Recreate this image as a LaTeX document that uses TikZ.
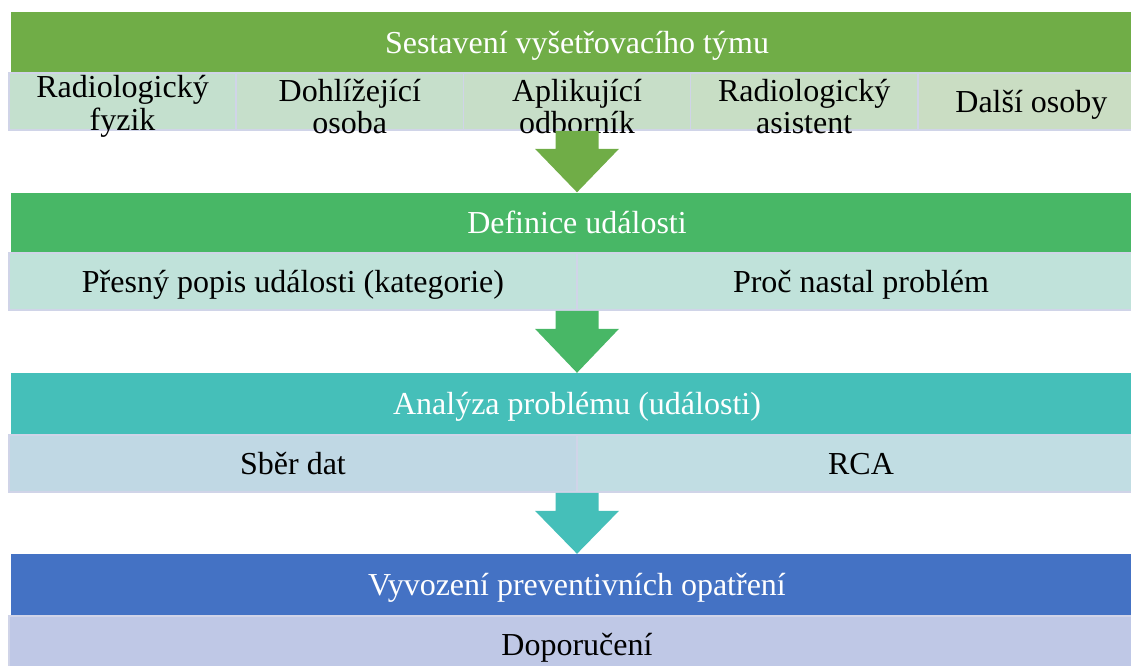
\documentclass[tikz,border=0pt]{standalone}
\usepackage{fontspec}
\setmainfont{Liberation Serif}
\usetikzlibrary{calc}

\definecolor{barA}{HTML}{70AD47}
\definecolor{barB}{HTML}{48B766}
\definecolor{barC}{HTML}{45BFB9}
\definecolor{barD}{HTML}{4472C4}
\definecolor{subA1}{HTML}{C4E0CE}
\definecolor{subA2}{HTML}{C6DFCB}
\definecolor{subA3}{HTML}{C7DEC8}
\definecolor{subA4}{HTML}{C8DEC5}
\definecolor{subA5}{HTML}{CADDC3}
\definecolor{subB}{HTML}{C0E2DA}
\definecolor{subC1}{HTML}{C0D8E4}
\definecolor{subC2}{HTML}{C1DDE3}
\definecolor{subD}{HTML}{BFC8E6}
\definecolor{edge}{HTML}{D0D4E8}

% down arrow from the bottom of one row to the top of the next bar
\newcommand\flowarrow[3]{%
  \fill[#3] ($(#1)+(-21.5,0)$) -- ($(#1)+(21.5,0)$) -- ($(#1)+(21.5,18)$)
    -- ($(#1)+(42,18)$) -- (#2) -- ($(#1)+(-42,18)$) -- ($(#1)+(-21.5,18)$) -- cycle;}

\tikzset{
  bar/.style={rectangle, inner sep=0pt, minimum width=1132pt, minimum height=61pt,
    text=white, font=\fontsize{32}{33}\selectfont, text height=21pt, text depth=0pt},
  subbox/.style={rectangle, draw=edge, line width=1.6pt, inner sep=0pt,
    minimum height=57pt},
  lbl/.style={inner sep=0pt, align=center, font=\fontsize{32}{32.5}\selectfont},
  onelbl/.style={inner sep=0pt, font=\fontsize{32}{33}\selectfont,
    text height=21pt, text depth=0pt}
}

\begin{document}
\begin{tikzpicture}[x=1pt, y=-1pt]
\useasboundingbox (0,0) rectangle (1131,665);
\clip (0,0) rectangle (1131,665);

% stage 1: team
\node[bar, fill=barA] (h1) at (577,42.5) {Sestavení vyšetřovacího týmu};
\foreach \i/\c in {1/subA1,2/subA2,3/subA3,4/subA4,5/subA5}{
  \node[subbox, fill=\c, minimum width=227.2pt] (s1\i) at ({9+(\i-0.5)*227.2},101.5) {};
}
\node[lbl, yshift=-5pt] (t11) at (s11.center) {Radiologický\\fyzik};
\node[lbl, yshift=-5pt] (t12) at (s12.center) {Dohlížející\\osoba};
\node[lbl, yshift=-5pt] (t13) at (s13.center) {Aplikující\\odborník};
\node[lbl, yshift=-5pt] (t14) at (s14.center) {Radiologický\\asistent};
\node[onelbl] (t15) at (s15.center) {Další osoby};

% stage 2: event definition
\node[bar, fill=barB] (h2) at (577,223) {Definice události};
\node[subbox, fill=subB, minimum width=568pt] (s21) at (293,281.5) {};
\node[subbox, fill=subB, minimum width=568pt] (s22) at (861,281.5) {};
\node[onelbl] (t21) at (s21.center) {Přesný popis události (kategorie)};
\node[onelbl] (t22) at (s22.center) {Proč nastal problém};

% stage 3: analysis
\node[bar, fill=barC] (h3) at (577,403.5) {Analýza problému (události)};
\node[subbox, fill=subC1, minimum width=568pt] (s31) at (293,463.5) {};
\node[subbox, fill=subC2, minimum width=568pt] (s32) at (861,463.5) {};
\node[onelbl] (t31) at (s31.center) {Sběr dat};
\node[onelbl] (t32) at (s32.center) {RCA};

% stage 4: preventive measures
\node[bar, fill=barD] (h4) at (577,584.5) {Vyvození preventivních opatření};
\node[subbox, fill=subD, minimum width=1136pt] (s41) at (577,644.5) {};
\node[onelbl] (t41) at (s41.center) {Doporučení};

% connecting arrows
\coordinate (a2) at ($(s21.south east)!0.5!(s22.south west)$);
\coordinate (a3) at ($(s31.south east)!0.5!(s32.south west)$);
\flowarrow{s13.south}{h2.north}{barA}
\flowarrow{a2}{h3.north}{barB}
\flowarrow{a3}{h4.north}{barC}
\end{tikzpicture}
\end{document}
